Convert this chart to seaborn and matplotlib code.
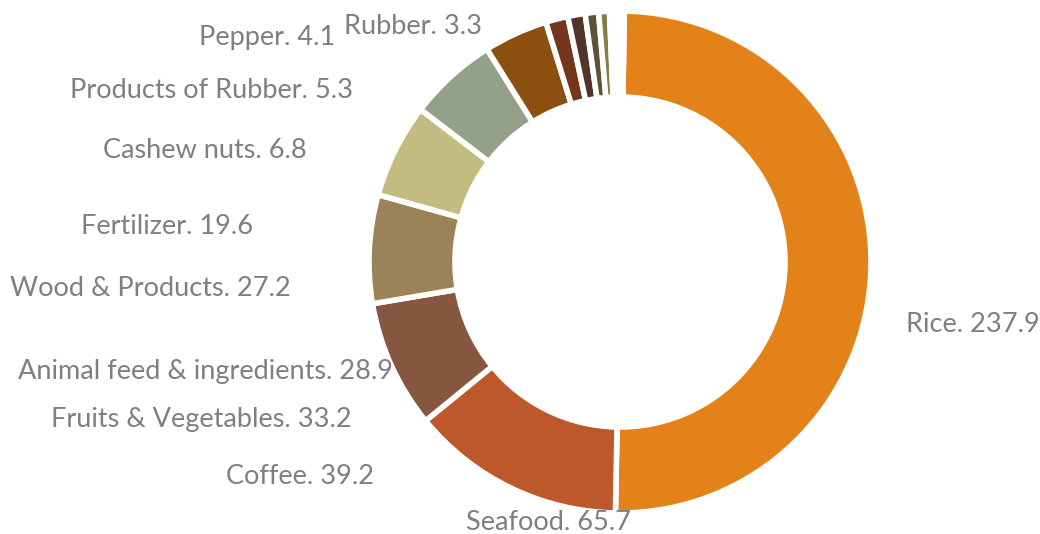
import matplotlib
matplotlib.use("Agg")
import matplotlib.pyplot as plt
import seaborn as sns

# datos
categories = ["Rice", "Seafood", "Coffee", "Fruits & Vegetables",
              "Animal feed & ingredients", "Wood & Products", "Fertilizer",
              "Cashew nuts", "Products of Rubber", "Pepper", "Rubber"]
values = [237.9, 65.7, 39.2, 33.2, 28.9, 27.2, 19.6, 6.8, 5.3, 4.1, 3.3]
other = 4.5  # resto sin etiqueta (hueco arriba)

colors = ["#E4821A", "#BC582C", "#865640", "#9B8357", "#C2BC80", "#94A088",
          "#8B4F0E", "#73361C", "#52352A", "#5E5039", "#867D41"]

# posiciones de las etiquetas (px, origen arriba-izquierda)
label_xy = [(973, 325), (548, 522), (300, 476), (201, 420), (206, 371),
            (150, 289), (167, 226), (205, 151), (212, 90), (267, 37), (413, 27)]

sns.set_theme(style="white")
plt.rcParams['font.family'] = ['Lato', 'DejaVu Sans']

W, H = 1040, 534
fig = plt.figure(figsize=(W / 100, H / 100), dpi=100)
ax = fig.add_axes([0, 0, 1, 1])

pal = sns.color_palette(colors) + [(1, 1, 1)]
ax.pie(values + [other], colors=pal, startangle=89, counterclock=False,
       center=(620, H - 262), radius=251,
       wedgeprops=dict(width=86, edgecolor="white", linewidth=4))

for name, val, (px, py) in zip(categories, values, label_xy):
    ax.text(px, H - py, f"{name}. {val}", ha="center", va="center",
            fontsize=19.5, color="#7F7F7F")

ax.set_xlim(0, W)
ax.set_ylim(0, H)
ax.set_aspect("equal")
ax.axis("off")

fig.savefig("out.png", dpi=100)
